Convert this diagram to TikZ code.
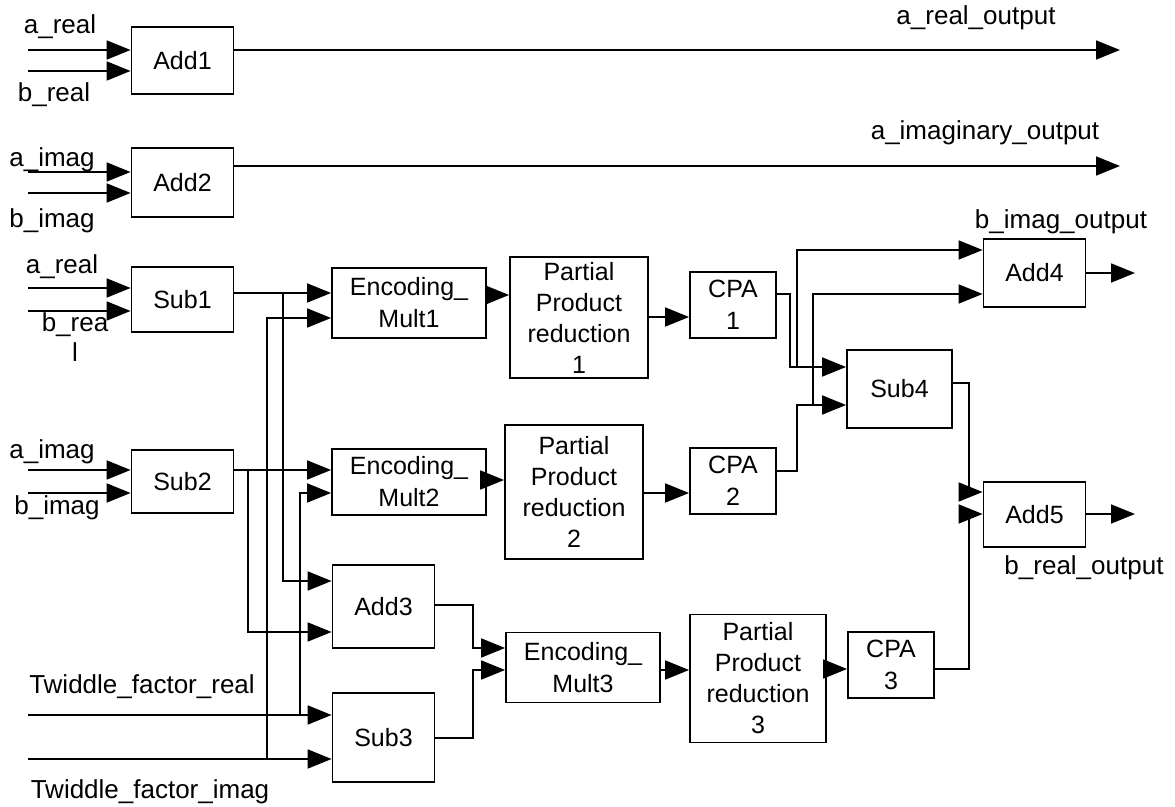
\documentclass[tikz,border=0pt]{standalone}
\usepackage{fontspec}
\setmainfont{Liberation Sans}
\usetikzlibrary{arrows.meta}

\begin{document}
\begin{tikzpicture}[x=0.5pt, y=-0.5pt]
  \tikzset{
    block/.style={
      draw,
      line width=0.9pt,
      inner sep=0pt,
      align=center,
      anchor=center,
      fill=white,
      font=\fontsize{12.5}{16}\selectfont
    },
    adder/.style={
      block,
      minimum width=51pt,
      minimum height=33.5pt
    },
    mult/.style={
      block,
      minimum width=77pt,
      minimum height=35pt
    },
    ppr/.style={
      block,
      minimum width=69pt,
      minimum height=64pt,
      font=\fontsize{12.5}{15.5}\selectfont
    },
    cpa/.style={
      block,
      minimum width=43pt,
      minimum height=33pt
    },
    wire/.style={
      line width=0.9pt,
      -{Triangle[length=12pt, width=9.5pt]}
    },
    sig/.style={
      inner sep=0pt,
      font=\fontsize{13}{15}\selectfont
    }
  }
  \useasboundingbox (0, 0) rectangle (1175, 807);

  % Draw the blocks
    \node[adder] at (182.5, 60.5) (add1) {Add1};
    \node[adder, minimum height=34.5pt] at (182.5, 182.5) (add2) {Add2};
    \node[adder, minimum height=32.5pt] at (182.5, 299.5) (sub1) {Sub1};
    \node[adder, minimum height=31.5pt] at (182.5, 481.5) (sub2) {Sub2};
    \node[adder, minimum height=41.5pt] at (383.5, 606.5) (add3) {Add3};
    \node[adder, minimum height=44.5pt] at (383.5, 737.5) (sub3) {Sub3};

    \node[mult] at (409, 303) (mult1) {Encoding\_\\Mult1};
    \node[mult, minimum height=33pt] at (409, 482) (mult2) {Encoding\_\\Mult2};
    \node[mult] at (583, 667.5) (mult3) {Encoding\_\\Mult3};

    \node[ppr, minimum height=60.5pt] at (579, 317.5) (ppr1) {Partial\\Product\\reduction\\1};
    \node[ppr, minimum height=67pt] at (574, 492) (ppr2) {Partial\\Product\\reduction\\2};
    \node[ppr, minimum width=68pt] at (758, 678.5) (ppr3) {Partial\\Product\\reduction\\3};

    \node[cpa] at (733, 305) (cpa1) {CPA\\1};
    \node[cpa] at (733, 481) (cpa2) {CPA\\2};
    \node[cpa] at (891, 665) (cpa3) {CPA\\3};

    \node[adder, minimum height=34pt] at (1034.5, 273) (add4) {Add4};
    \node[adder, minimum width=52.5pt, minimum height=39pt] at (899.5, 389) (sub4) {Sub4};
    \node[adder, minimum height=32.5pt] at (1034.5, 514.5) (add5) {Add5};

  % Input ends and their names
    \coordinate (src1) at (28, 50);
    \coordinate (src2) at (28, 71);
    \coordinate (src3) at (28, 172);
    \coordinate (src4) at (28, 193);
    \coordinate (src5) at (28, 288);
    \coordinate (src6) at (28, 311);
    \coordinate (src7) at (28, 470);
    \coordinate (src8) at (28, 493);
    \coordinate (src9) at (28, 715);
    \coordinate (src10) at (28, 759);

    \node[sig] at (60, 27) (txt1) {a\_real};
    \node[sig] at (54, 95) (txt2) {b\_real};
    \node[sig] at (52, 160) (txt3) {a\_imag};
    \node[sig] at (52, 221) (txt4) {b\_imag};
    \node[sig] at (62, 267) (txt5) {a\_real};
    \node[sig, align=center] at (75, 337) (txt6) {b\_rea\\l};
    \node[sig] at (52, 452) (txt7) {a\_imag};
    \node[sig] at (57, 508) (txt8) {b\_imag};
    \node[sig] at (142, 687) (txt9) {Twiddle\_factor\_real};
    \node[sig] at (150, 792) (txt10) {Twiddle\_factor\_imag};

  % Output ends and their names
    \coordinate (dst1) at (1120, 50);
    \coordinate (dst2) at (1120, 166);
    \coordinate (dst3) at (1135, 273);
    \coordinate (dst4) at (1135, 514);

    \node[sig] at (976, 18) (out1) {a\_real\_output};
    \node[sig] at (985, 133) (out2) {a\_imaginary\_output};
    \node[sig] at (1061, 222) (out3) {b\_imag\_output};
    \node[sig] at (1084, 568) (out4) {b\_real\_output};

  % Wires into the first column
    \draw[wire] (src1) -- (add1.west |- src1);
    \draw[wire] (src2) -- (add1.west |- src2);
    \draw[wire] (src3) -- (add2.west |- src3);
    \draw[wire] (src4) -- (add2.west |- src4);
    \draw[wire] (src5) -- (sub1.west |- src5);
    \draw[wire] (src6) -- (sub1.west |- src6);
    \draw[wire] (src7) -- (sub2.west |- src7);
    \draw[wire] (src8) -- (sub2.west |- src8);
    \draw[wire] (src9) -- (sub3.west |- src9);
    \draw[wire] (src10) -- (sub3.west |- src10);

  % Straight outputs
    \draw[wire] (add1.east |- dst1) -- (dst1);
    \draw[wire] (add2.east |- dst2) -- (dst2);
    \draw[wire] (add4.east |- dst3) -- (dst3);
    \draw[wire] (add5.east |- dst4) -- (dst4);

  % Sub1, Sub2 and twiddle factors to the multipliers
    \draw[wire] (sub1.east |- 0,293) -- (mult1.west |- 0,293);
    \draw[wire] (sub1.east |- 0,293) -| (283, 581) -- (add3.west |- 0,581);
    \draw[wire] (sub2.east |- 0,470) -- (mult2.west |- 0,470);
    \draw[wire] (sub2.east |- 0,470) -| (248, 632) -- (add3.west |- 0,632);
    \draw[wire] (src9) -| (300, 493) -- (mult2.west |- 0,493);
    \draw[wire] (src10) -| (267, 318) -- (mult1.west |- 0,318);
    \draw[wire] (add3.east |- 0,605) -| (473, 648) -- (mult3.west |- 0,648);
    \draw[wire] (sub3.east |- 0,738) -| (473, 670) -- (mult3.west |- 0,670);

  % Multiplier chains
    \draw[wire] (mult1.east |- 0,295) -- (ppr1.west |- 0,295);
    \draw[wire] (mult2.east |- 0,480) -- (ppr2.west |- 0,480);
    \draw[wire] (mult3.east |- 0,670) -- (ppr3.west |- 0,670);
    \draw[wire] (ppr1.east |- 0,317) -- (cpa1.west |- 0,317);
    \draw[wire] (ppr2.east |- 0,493) -- (cpa2.west |- 0,493);
    \draw[wire] (ppr3.east |- 0,669) -- (cpa3.west |- 0,669);

  % Final adders
    \draw[wire] (cpa1.east |- 0,294) -| (790, 367) -- (sub4.west |- 0,367);
    \draw[wire] (cpa1.east |- 0,294) -| (790, 367) -| (797, 250) -- (add4.west |- 0,250);
    \draw[wire] (cpa2.east |- 0,471) -| (797, 405) -- (sub4.west |- 0,405);
    \draw[wire] (cpa2.east |- 0,471) -| (797, 405) -| (813, 294) -- (add4.west |- 0,294);
    \draw[wire] (sub4.east |- 0,383) -| (969, 492) -- (add5.west |- 0,492);
    \draw[wire] (cpa3.east |- 0,669) -| (969, 514) -- (add5.west |- 0,514);

\end{tikzpicture}
\end{document}
